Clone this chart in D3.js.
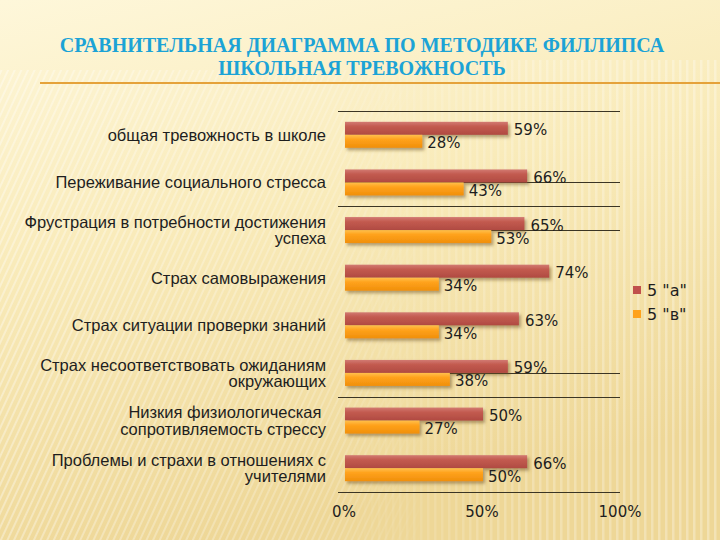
<!DOCTYPE html>
<html><head><meta charset="utf-8">
<script src="https://cdn.jsdelivr.net/npm/d3@7"></script>
<style>html,body{margin:0;padding:0;}svg{display:block;}</style>
</head><body>
<svg id="chart" width="720" height="540"></svg>
<script>
const categories = [
  "общая тревожность в школе",
  "Переживание социального стресса",
  "Фрустрация в потребности достижения\nуспеха",
  "Страх самовыражения",
  "Страх ситуации проверки знаний",
  "Страх несоответствовать ожиданиям\nокружающих",
  "Низкия физиологическая \nсопротивляемость стрессу",
  "Проблемы и страхи в отношениях с\nучителями"
];
const seriesNames = ['5 "а"', '5 "в"'];
const seriesA = [59, 66, 65, 74, 63, 59, 50, 66];
const seriesB = [28, 43, 53, 34, 34, 38, 27, 50];
const xTicks = [0, 50, 100];
const titleLines = ["СРАВНИТЕЛЬНАЯ ДИАГРАММА ПО МЕТОДИКЕ ФИЛЛИПСА", "ШКОЛЬНАЯ ТРЕВОЖНОСТЬ"];

const svg = d3.select("#chart");
const defs = svg.append("defs");

// background
const bg = defs.append("linearGradient").attr("id","bg").attr("x1",0).attr("y1",0).attr("x2",0.3).attr("y2",1);
bg.append("stop").attr("offset","0%").attr("stop-color","#FEF7DA");
bg.append("stop").attr("offset","45%").attr("stop-color","#F9EBBA");
bg.append("stop").attr("offset","100%").attr("stop-color","#EED797");
svg.append("rect").attr("width",720).attr("height",540).attr("fill","url(#bg)");

const diag = defs.append("pattern").attr("id","diag").attr("width",6).attr("height",6)
  .attr("patternUnits","userSpaceOnUse").attr("patternTransform","rotate(25)");
diag.append("rect").attr("width",2).attr("height",6).attr("fill","#FFFFFF").attr("opacity",0.35);
const vert = defs.append("pattern").attr("id","vert").attr("width",7).attr("height",7)
  .attr("patternUnits","userSpaceOnUse");
vert.append("rect").attr("width",2.5).attr("height",7).attr("fill","#FFFFFF").attr("opacity",0.3);
const fadeL = defs.append("linearGradient").attr("id","fadeL");
fadeL.append("stop").attr("offset","0%").attr("stop-color","#fff").attr("stop-opacity",1);
fadeL.append("stop").attr("offset","45%").attr("stop-color","#fff").attr("stop-opacity",0.6);
fadeL.append("stop").attr("offset","60%").attr("stop-color","#fff").attr("stop-opacity",0);
const mL = defs.append("mask").attr("id","mL");
mL.append("rect").attr("y",70).attr("width",720).attr("height",470).attr("fill","url(#fadeL)");
const fadeR = defs.append("linearGradient").attr("id","fadeR");
fadeR.append("stop").attr("offset","45%").attr("stop-color","#fff").attr("stop-opacity",0);
fadeR.append("stop").attr("offset","75%").attr("stop-color","#fff").attr("stop-opacity",0.8);
fadeR.append("stop").attr("offset","100%").attr("stop-color","#fff").attr("stop-opacity",1);
const mR = defs.append("mask").attr("id","mR");
mR.append("rect").attr("y",60).attr("width",720).attr("height",480).attr("fill","url(#fadeR)");
svg.append("rect").attr("width",720).attr("height",540).attr("fill","url(#diag)").attr("mask","url(#mL)");
svg.append("rect").attr("width",720).attr("height",540).attr("fill","url(#vert)").attr("mask","url(#mR)");

// title
titleLines.forEach((ln,i)=>{
  svg.append("g").attr("transform",`translate(362,${52 + i*23}) scale(0.91,1)`)
    .append("text")
    .attr("text-anchor","middle")
    .attr("font-family","Liberation Serif, Times New Roman, serif")
    .attr("font-weight","bold").attr("font-size",22)
    .attr("fill","#1CA3D6")
    .text(ln);
});
svg.append("line").attr("x1",40).attr("x2",720).attr("y1",83).attr("y2",83)
  .attr("stroke","#E5A23A").attr("stroke-width",2);

// scales
const x = d3.scaleLinear().domain([0,100]).range([345,621]);
const y = d3.scaleBand().domain(categories).range([111,492]).paddingInner(0).paddingOuter(0);
const bw = y.bandwidth();
const barH = 13;

// grid lines
const g = svg.append("g");
const fullIdx = [0,2,6,8];
g.selectAll("line.full").data(fullIdx).join("line")
  .attr("x1",338).attr("x2",620)
  .attr("y1",d=>Math.round(111 + d*bw)+0.5).attr("y2",d=>Math.round(111 + d*bw)+0.5)
  .attr("stroke","#3b3524").attr("stroke-width",1);
const partIdx = [1,2,5];
g.selectAll("line.part").data(partIdx).join("line")
  .attr("x1",345).attr("x2",620)
  .attr("y1",d=>Math.round(y(categories[d])+bw/2)+0.5).attr("y2",d=>Math.round(y(categories[d])+bw/2)+0.5)
  .attr("stroke","#3b3524").attr("stroke-width",1);

// bar gradients and shadow
function grad(id, c1, c2, c3){
  const gr = defs.append("linearGradient").attr("id",id).attr("x1",0).attr("y1",0).attr("x2",0).attr("y2",1);
  gr.append("stop").attr("offset","0%").attr("stop-color",c1);
  gr.append("stop").attr("offset","35%").attr("stop-color",c2);
  gr.append("stop").attr("offset","100%").attr("stop-color",c3);
}
grad("gA","#D27A72","#C35B50","#B04A41");
grad("gB","#FFC04D","#FFA21C","#F08F0A");
const sh = defs.append("filter").attr("id","sh").attr("x","-5%").attr("y","-30%").attr("width","115%").attr("height","180%");
sh.append("feDropShadow").attr("dx",2).attr("dy",2.5).attr("stdDeviation",1.8).attr("flood-color","#6b5020").attr("flood-opacity",0.5);

const rows = categories.map((c,i)=>({c, a:seriesA[i], b:seriesB[i]}));
const cy = d => y(d.c) + bw/2;

g.selectAll("rect.a").data(rows).join("rect")
  .attr("x",x(0)).attr("y",d=>cy(d)-barH).attr("width",d=>x(d.a)-x(0)).attr("height",barH)
  .attr("fill","url(#gA)").attr("filter","url(#sh)");
g.selectAll("rect.b").data(rows).join("rect")
  .attr("x",x(0)).attr("y",d=>cy(d)).attr("width",d=>x(d.b)-x(0)).attr("height",barH)
  .attr("fill","url(#gB)").attr("filter","url(#sh)");

const vf = "'DejaVu Sans', sans-serif";
g.selectAll("text.va").data(rows).join("text")
  .attr("x",d=>x(d.a)+6).attr("y",d=>cy(d)-4.5)
  .attr("dominant-baseline","central")
  .attr("font-family",vf).attr("font-size",15).attr("fill","#1e1e1e")
  .text(d=>d.a+"%");
g.selectAll("text.vb").data(rows).join("text")
  .attr("x",d=>x(d.b)+5).attr("y",d=>cy(d)+8.5)
  .attr("dominant-baseline","central")
  .attr("font-family",vf).attr("font-size",15).attr("fill","#1e1e1e")
  .text(d=>d.b+"%");

// category labels
const cl = svg.append("g");
rows.forEach(d=>{
  const lines = d.c.split("\n");
  const t = cl.append("text").attr("text-anchor","end")
    .attr("font-family","'Liberation Sans', Arial, sans-serif").attr("font-size",16.5).attr("fill","#1e1e1e");
  lines.forEach((ln,k)=>{
    t.append("tspan").attr("x",326)
      .attr("y", cy(d) + (k - (lines.length-1)/2)*16.5)
      .attr("dominant-baseline","central")
      .text(ln);
  });
});

// x axis tick labels
svg.selectAll("text.xt").data(xTicks).join("text")
  .attr("x",d=>x(d)-1).attr("y",512)
  .attr("text-anchor","middle").attr("dominant-baseline","central")
  .attr("font-family",vf).attr("font-size",15).attr("fill","#1e1e1e")
  .text(d=>d+"%");

// legend
const lg = svg.append("g");
const lcol = ["#C0504D","#FFA21C"];
seriesNames.forEach((n,i)=>{
  lg.append("rect").attr("x",633).attr("y",286 + i*24).attr("width",8).attr("height",8).attr("fill",lcol[i]);
  lg.append("text").attr("x",647).attr("y",290 + i*24).attr("dominant-baseline","central")
    .attr("font-family",vf).attr("font-size",16).attr("fill","#1e1e1e").text(n);
});
</script>
</body></html>
